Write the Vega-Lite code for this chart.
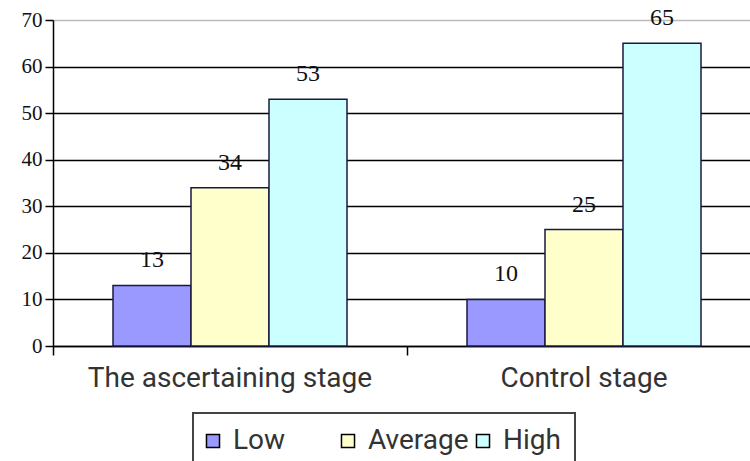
{
  "$schema": "https://vega.github.io/schema/vega-lite/v6.json",
  "width": 708,
  "height": 326,
  "autosize": "none",
  "padding": {"left": 53, "top": 20, "right": 0, "bottom": 115},
  "background": "white",
  "config": {"view": {"stroke": null}, "legend": {"strokeWidth": 2}},
  "data": {"values": [
    {"stage": "The ascertaining stage", "level": "Low", "value": 13},
    {"stage": "The ascertaining stage", "level": "Average", "value": 34},
    {"stage": "The ascertaining stage", "level": "High", "value": 53},
    {"stage": "Control stage", "level": "Low", "value": 10},
    {"stage": "Control stage", "level": "Average", "value": 25},
    {"stage": "Control stage", "level": "High", "value": 65}
  ]},
  "encoding": {
    "x": {
      "field": "stage", "type": "nominal",
      "sort": ["The ascertaining stage", "Control stage"],
      "scale": {"paddingInner": 0.339, "paddingOuter": 0.1695},
      "axis": {
        "title": null, "labelAngle": 0, "bandPosition": -0.2564,
        "labelLimit": 0, "labelAlign": "center",
        "tickSize": 9, "tickColor": "black", "tickWidth": 1.5,
        "domainColor": "black", "domainWidth": 1.5,
        "labelFont": "Roboto", "labelFontSize": 28, "labelColor": "#333",
        "labelPadding": 9, "grid": false
      }
    },
    "xOffset": {"field": "level", "type": "nominal", "sort": ["Low", "Average", "High"], "scale": {"paddingInner": 0, "paddingOuter": 0}},
    "y": {
      "field": "value", "type": "quantitative",
      "scale": {"domain": [0, 70], "nice": false},
      "axis": {
        "title": null, "values": [0, 10, 20, 30, 40, 50, 60, 70],
        "labelFont": "Liberation Serif", "labelFontSize": 21, "labelColor": "#111",
        "labelPadding": 3, "tickSize": 8, "tickColor": "black", "tickWidth": 1.5,
        "domainColor": "black", "domainWidth": 1.5,
        "grid": true, "gridWidth": 1.5,
        "gridColor": {"condition": {"test": "datum.value === 70", "value": "#bbbbbb"}, "value": "black"}
      }
    }
  },
  "layer": [
    {
      "mark": {"type": "bar", "stroke": "#1a1a40", "strokeWidth": 1.5},
      "encoding": {
        "color": {
          "field": "level", "type": "nominal",
          "scale": {"domain": ["Low", "Average", "High"], "range": ["#9999ff", "#ffffcc", "#ccffff"]},
          "legend": {
            "title": null, "orient": "none", "legendX": 140, "legendY": 393,
            "direction": "horizontal", "strokeColor": "#444", "padding": 14,
            "gridAlign": "all",
            "symbolType": "square", "symbolSize": 170, "symbolStrokeColor": "black",
            "symbolStrokeWidth": 1.5, "symbolOpacity": 1, "symbolOffset": -8,
            "labelFont": "Roboto", "labelFontSize": 28, "labelColor": "#333",
            "labelOffset": 6, "columnPadding": 4
          }
        }
      }
    },
    {
      "mark": {"type": "text", "font": "Liberation Serif", "fontSize": 24, "dy": -25, "baseline": "middle", "color": "#111"},
      "encoding": {"text": {"field": "value", "type": "quantitative"}}
    }
  ]
}
